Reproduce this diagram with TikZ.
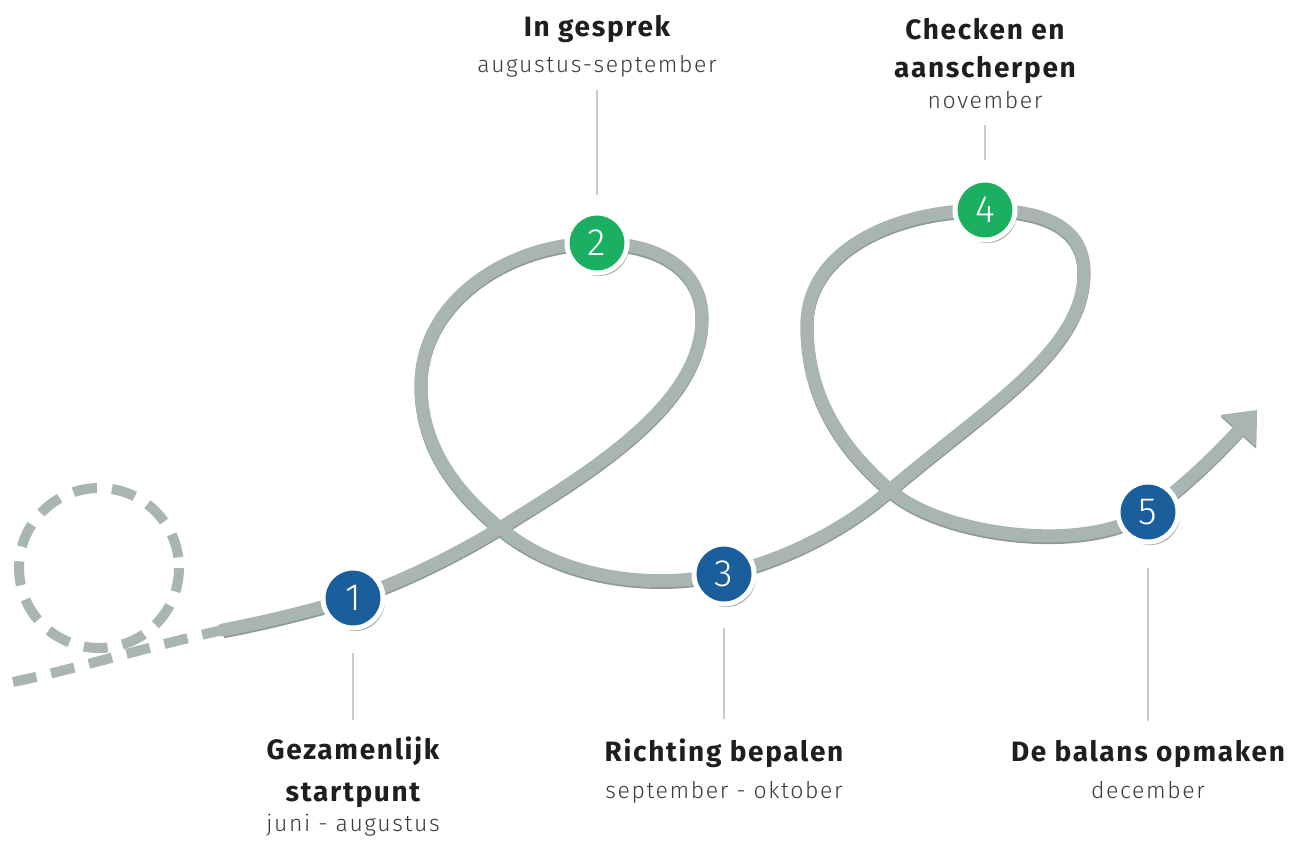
\documentclass[tikz,border=0pt]{standalone}
\usepackage{fontspec}
\setmainfont{Fira Sans}
\newfontfamily\lightfont{Fira Sans Light}
\newfontfamily\titlefont{Fira Sans Bold}[LetterSpace=6]
\newfontfamily\subfont{Fira Sans Light}[LetterSpace=7]
\usetikzlibrary{arrows.meta,shadows}
\definecolor{pathgray}{HTML}{A9B5B2}
\definecolor{pathdark}{HTML}{8E9A97}
\definecolor{dblue}{HTML}{1B5E9C}
\definecolor{dgreen}{HTML}{1BAF62}
\definecolor{leadgray}{HTML}{C5CDCC}
\definecolor{txt}{HTML}{1E1E1E}
\definecolor{subtxt}{HTML}{3A3A3A}
\begin{document}
\begin{tikzpicture}[x=1pt,y=-1pt,
  disc/.style={circle, draw=white, line width=5pt, minimum size=60pt, inner sep=0pt,
    text=white, font=\lightfont\fontsize{38}{38}\selectfont,
    drop shadow={shadow xshift=2pt, shadow yshift=-3pt, opacity=0.35, fill=black}},
  bluedisc/.style={disc, fill=dblue},
  greendisc/.style={disc, fill=dgreen},
  titletext/.style={font=\titlefont\fontsize{28}{30}\selectfont, text=txt, inner sep=0pt, anchor=base},
  subtext/.style={font=\subfont\fontsize{23}{24}\selectfont, text=subtxt, inner sep=0pt, anchor=base},
  leader/.style={draw=leadgray, line width=1.5pt},
  trail/.style={draw=pathgray, line width=10pt, dash pattern=on 24pt off 15pt},
  road/.style={draw=pathgray, line width=13pt, line cap=round,
    preaction={draw=pathdark, line width=13pt, transform canvas={yshift=-1.8pt}}}
]
\fill[white] (0,0) rectangle (1298,841);
\useasboundingbox (0,0) rectangle (1298,841);

% dashed start
\draw[trail] (99,568) circle[radius=80];
\draw[trail] (13,682) .. controls (80,668) and (150,646) .. (223,630);

% main road
\draw[road, -{Triangle[length=28pt,width=46pt]}]
  (223,630) .. controls (265,622) and (310,611) .. (353,598)
  .. controls (400,583) and (460,553) .. (500,528)
  .. controls (590,472) and (702,405) .. (702,318)
  .. controls (702,270) and (660,243) .. (597,243)
  .. controls (510,243) and (421,300) .. (421,385)
  .. controls (421,450) and (460,495) .. (500,528)
  .. controls (560,578) and (650,590) .. (723,574)
  .. controls (780,562) and (845,530) .. (890,490)
  .. controls (990,405) and (1084,350) .. (1084,272)
  .. controls (1084,225) and (1040,210) .. (985,210)
  .. controls (895,210) and (807,250) .. (807,325)
  .. controls (807,405) and (850,455) .. (890,490)
  .. controls (940,535) and (1085,555) .. (1148,512)
  .. controls (1190,483) and (1230,440) .. (1257,410);

% stations
\node[bluedisc]  (n1) at (353,598) {1};
\node[greendisc] (n2) at (597,243) {2};
\node[bluedisc]  (n3) at (724,574) {3};
\node[greendisc] (n4) at (985,210) {4};
\node[bluedisc]  (n5) at (1148,512) {5};

% labels
\node[titletext] (t1a) at (353,759) {Gezamenlijk};
\node[titletext] (t1b) at (353,801) {startpunt};
\node[subtext]   (t1c) at (353,831) {juni - augustus};

\node[titletext] (t2a) at (597,36) {In gesprek};
\node[subtext]   (t2b) at (597,72) {augustus-september};

\node[titletext] (t3a) at (724,761) {Richting bepalen};
\node[subtext]   (t3b) at (724,798) {september - oktober};

\node[titletext] (t4a) at (985,39) {Checken en};
\node[titletext] (t4b) at (985,77) {aanscherpen};
\node[subtext]   (t4c) at (985,108) {november};

\node[titletext] (t5a) at (1148,761) {De balans opmaken};
\node[subtext]   (t5b) at (1148,798) {december};

% leaders
\draw[leader, shorten <=22pt, shorten >=16pt] (n1.south) -- (t1a.north);
\draw[leader, shorten <=13pt, shorten >=16pt] (t2b.south) -- (n2.north);
\draw[leader, shorten <=21pt, shorten >=19pt] (n3.south) -- (t3a.north);
\draw[leader, shorten <=17pt, shorten >=18pt] (t4c.south) -- (n4.north);
\draw[leader, shorten <=23pt, shorten >=19pt] (n5.south) -- (t5a.north);
\end{tikzpicture}
\end{document}
